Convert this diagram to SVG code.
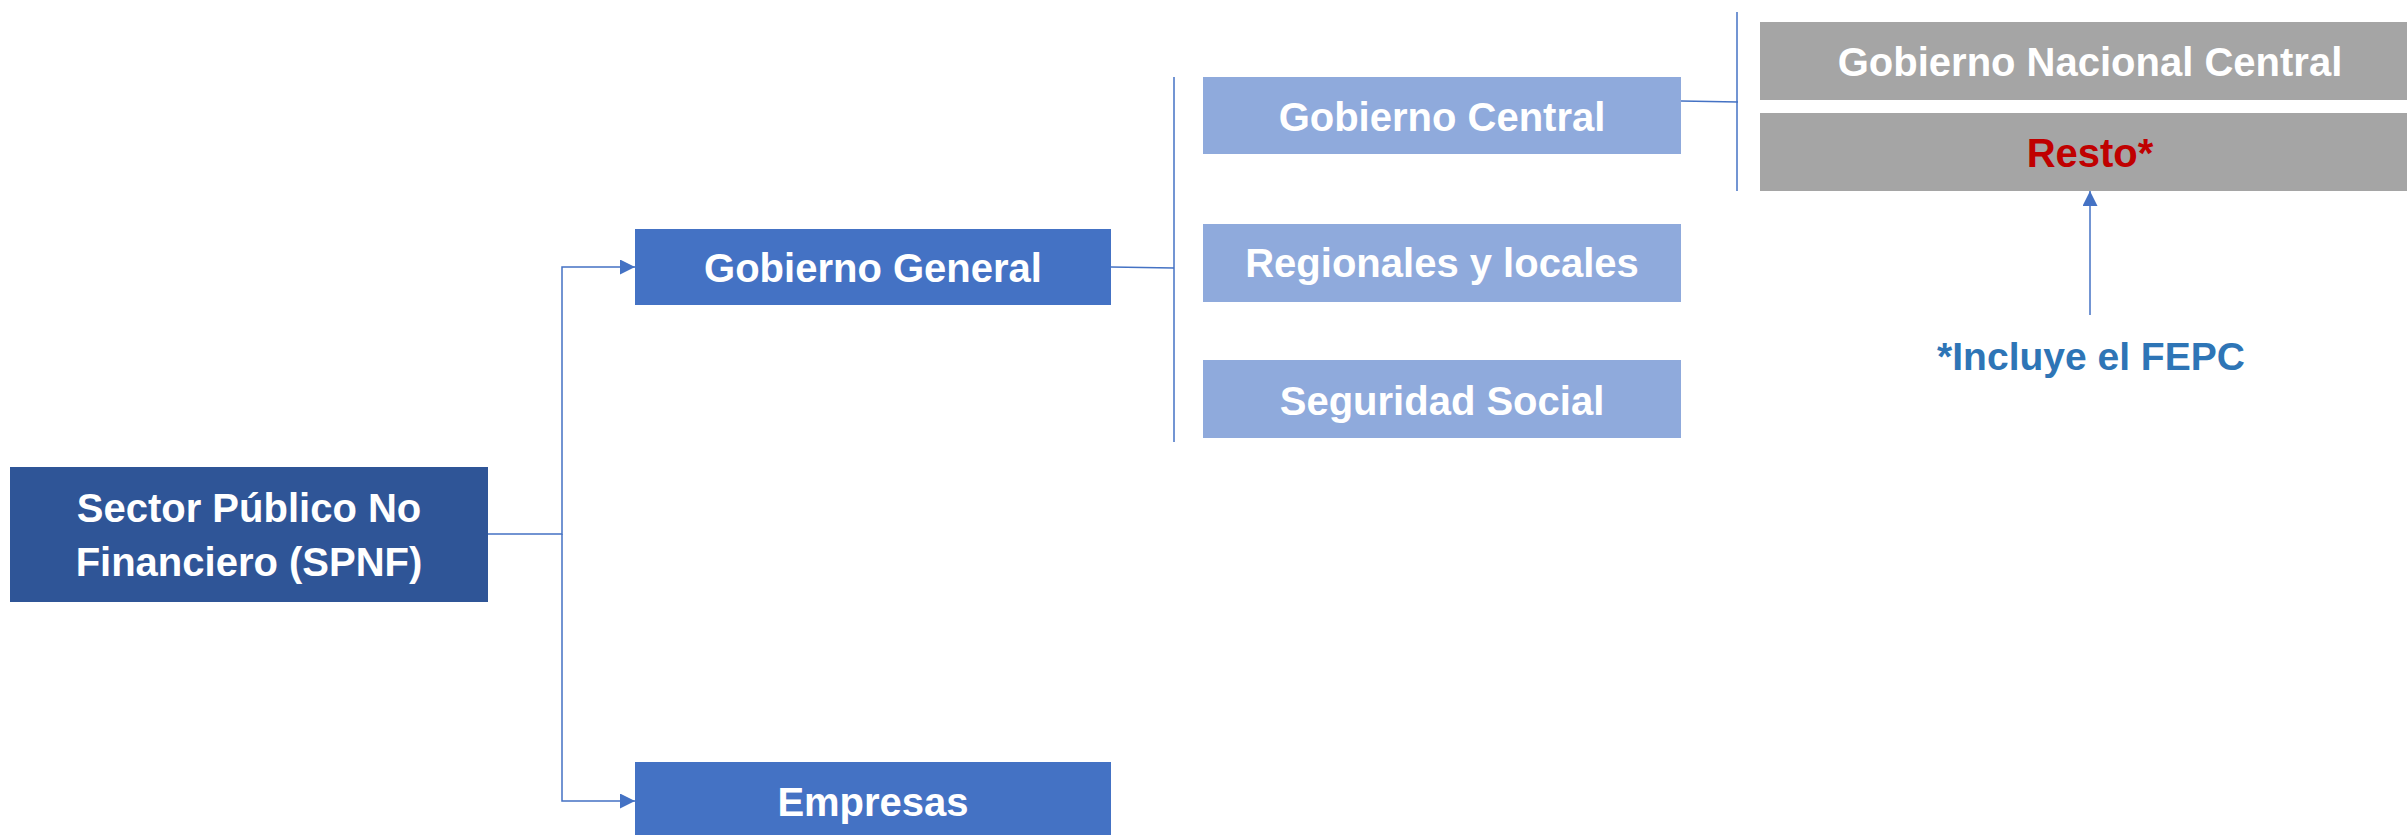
<svg xmlns="http://www.w3.org/2000/svg" width="2407" height="835" viewBox="0 0 2407 835">
<defs>
<style>
.t{font-family:"Liberation Sans",Arial,sans-serif;font-weight:bold;font-size:40px;text-anchor:middle;fill:#ffffff}
.c{fill:none;stroke:#4472C4;stroke-width:1.5}
</style>
<marker id="ah" viewBox="0 0 10 10" refX="10" refY="5" markerWidth="17" markerHeight="15" markerUnits="userSpaceOnUse" orient="auto">
<path d="M0,0 L10,5 L0,10 Z" fill="#4472C4"/>
</marker>
</defs>
<rect width="2407" height="835" fill="#ffffff"/>
<g id="connectors">
<path class="c" d="M488,534 H562 V267 H635" marker-end="url(#ah)"/>
<path class="c" d="M562,534 V801 H635" marker-end="url(#ah)"/>
<path class="c" d="M1111,267 L1174,268"/>
<path class="c" d="M1174,77 V442"/>
<path class="c" d="M1681,101 L1738,102"/>
<path class="c" d="M1737,12 V191"/>
<path class="c" d="M2090,315 V191" marker-end="url(#ah)"/>
</g>
<g id="spnf">
<rect x="10" y="467" width="478" height="135" fill="#2F5597"/>
<text class="t" x="249" y="522">Sector Público No</text>
<text class="t" x="249" y="576">Financiero (SPNF)</text>
</g>
<g id="gobierno-general">
<rect x="635" y="229" width="476" height="76" fill="#4472C4"/>
<text class="t" x="873" y="282">Gobierno General</text>
</g>
<g id="empresas">
<rect x="635" y="762" width="476" height="76" fill="#4472C4"/>
<text class="t" x="873" y="816">Empresas</text>
</g>
<g id="gobierno-central">
<rect x="1203" y="77" width="478" height="77" fill="#8FAADC"/>
<text class="t" x="1442" y="131">Gobierno Central</text>
</g>
<g id="regionales">
<rect x="1203" y="224" width="478" height="78" fill="#8FAADC"/>
<text class="t" x="1442" y="277">Regionales y locales</text>
</g>
<g id="seguridad">
<rect x="1203" y="360" width="478" height="78" fill="#8FAADC"/>
<text class="t" x="1442" y="415">Seguridad Social</text>
</g>
<g id="gobierno-nacional-central">
<rect x="1760" y="22" width="660" height="78" fill="#A5A5A5"/>
<text class="t" x="2090" y="76">Gobierno Nacional Central</text>
</g>
<g id="resto">
<rect x="1760" y="113" width="660" height="78" fill="#A5A5A5"/>
<text class="t" x="2090" y="167" style="fill:#C00000">Resto*</text>
</g>
<g id="nota">
<text class="t" x="2091" y="370" style="fill:#2E75B6;font-size:39px">*Incluye el FEPC</text>
</g>
</svg>
